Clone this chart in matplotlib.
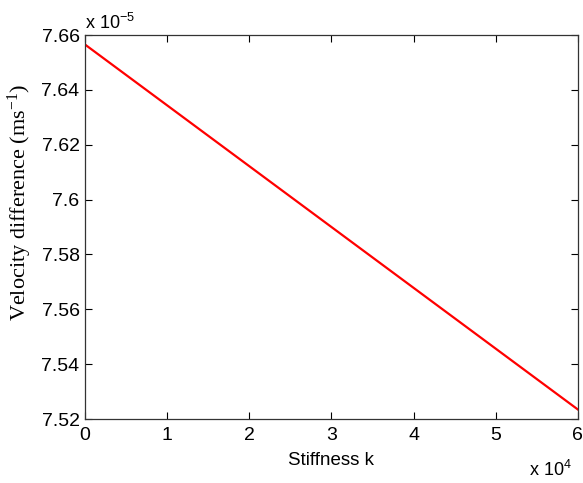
import matplotlib.pyplot as plt
import numpy as np

# data (stiffness in N/m, velocity difference in m/s)
stiffness = np.array([0, 60000])
velocity_diff = np.array([7.6565e-5, 7.5235e-5])

x_ticks = [0, 1, 2, 3, 4, 5, 6]
y_ticks = [7.52, 7.54, 7.56, 7.58, 7.60, 7.62, 7.64, 7.66]
y_tick_labels = ['7.52', '7.54', '7.56', '7.58', '7.6', '7.62', '7.64', '7.66']

plt.rcParams['font.family'] = 'Liberation Sans'

fig = plt.figure(figsize=(5.83, 4.83), dpi=100)
ax = fig.add_axes([0.146, 0.1325, 0.845, 0.795])

ax.plot(stiffness / 1e4, velocity_diff / 1e-5, color='red', linewidth=1.6)

ax.set_xlim(0, 6)
ax.set_ylim(7.52, 7.66)
ax.set_xticks(x_ticks)
ax.set_xticklabels([str(t) for t in x_ticks])
ax.set_yticks(y_ticks)
ax.set_yticklabels(y_tick_labels)
ax.tick_params(direction='in', top=True, right=True, labelsize=14, length=5, width=0.8)
ax.tick_params(axis='x', pad=6)
ax.tick_params(axis='y', pad=4)
for s in ax.spines.values():
    s.set_linewidth(0.9)
    s.set_color('#333333')

ax.set_xlabel('Stiffness k', fontsize=13.5)
ax.xaxis.set_label_coords(0.5, -0.085)
ax.set_ylabel(r'Velocity difference (ms$\mathregular{^{-1}}$)', fontsize=16,
              family='Liberation Serif')
ax.yaxis.set_label_coords(-0.104, 0.565)

# MATLAB-style exponent labels
fig.text(0.146, 0.94, r'x 10$\mathregular{^{-5}}$', fontsize=13, ha='left', va='baseline')
fig.text(0.981, 0.0145, r'x 10$\mathregular{^{4}}$', fontsize=13, ha='right', va='baseline')

plt.savefig('out.png', dpi=100)
